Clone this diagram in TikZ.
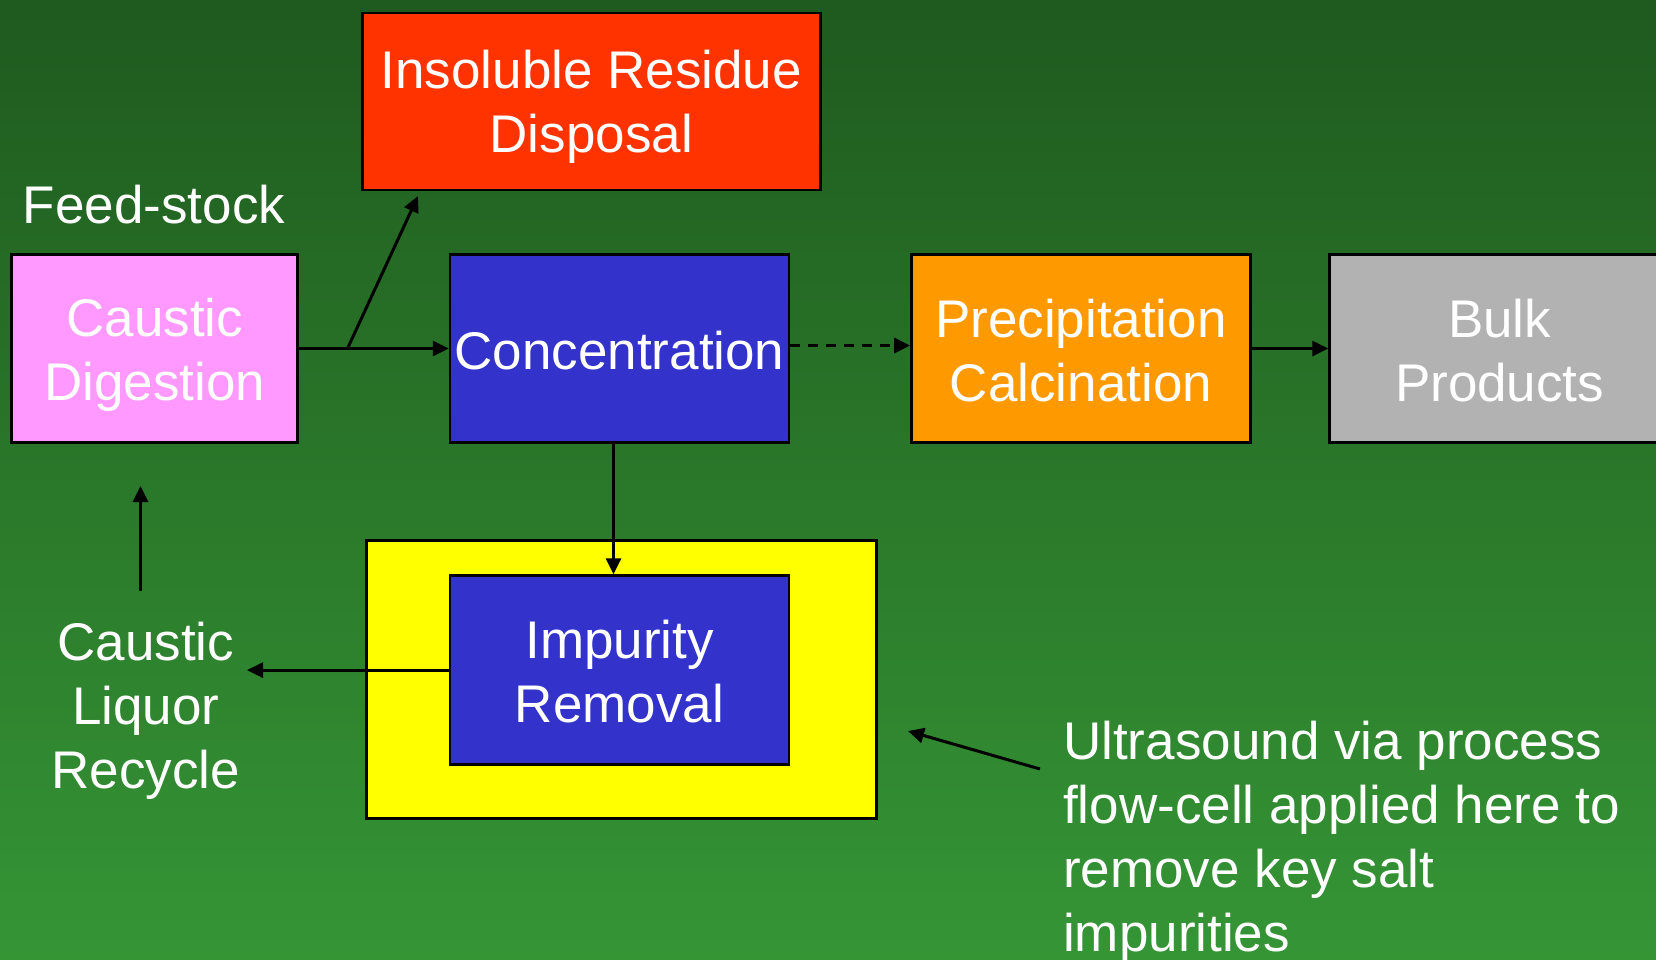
\documentclass[tikz,border=0pt]{standalone}
\usepackage{fontspec}
\setmainfont{Liberation Sans}
\usetikzlibrary{arrows.meta}
\definecolor{bgtop}{RGB}{31,90,31}
\definecolor{bgbot}{RGB}{53,149,53}
\definecolor{pinkbox}{RGB}{255,153,255}
\definecolor{bluebox}{RGB}{51,51,204}
\definecolor{redbox}{RGB}{255,51,0}
\definecolor{orangebox}{RGB}{255,153,0}
\definecolor{graybox}{RGB}{178,178,178}
\definecolor{cellyellow}{RGB}{255,255,0}
\newcommand{\lnstrut}{\rule[-9pt]{0pt}{59pt}}
\tikzset{
  bigtext/.style={text=white, font=\fontsize{53}{64}\selectfont, align=center},
  procbox/.style={bigtext, draw=black, line width=2.5pt, inner sep=0pt, minimum height=188pt},
  flow/.style={line width=3pt, -{Triangle[length=16pt,width=15pt]}}
}
\begin{document}
\begin{tikzpicture}[x=1pt, y=-1pt]
    \useasboundingbox (0,0) rectangle (1656,959);
    \fill[top color=bgtop, bottom color=bgbot] (0,0) rectangle (1656,959);
    % main row
    \node[procbox, fill=pinkbox, minimum width=286pt] (dig) at (154.7,348.5) {\lnstrut Caustic\\Digestion\lnstrut};
    \node[procbox, fill=bluebox, minimum width=339pt] (conc) at (619.5,348.5) {\lnstrut Concentration};
    \node[procbox, fill=orangebox, minimum width=339pt] (prec) at (1080.9,348.5) {\lnstrut Precipitation\\Calcination\lnstrut};
    \node[procbox, fill=graybox, minimum width=340pt] (bulk) at (1499.6,348.5) {\lnstrut Bulk\\Products\lnstrut};
    \node[procbox, fill=redbox, minimum width=458pt, minimum height=177pt] (res) at (591.3,101.4) {\lnstrut Insoluble Residue\\Disposal\lnstrut};
    % ultrasound cell
    \node[draw=black, line width=2.5pt, fill=cellyellow, minimum width=510pt, minimum height=278pt] (cell) at (621.5,679.6) {};
    \node[procbox, fill=bluebox, minimum width=339pt, minimum height=189pt] (imp) at (619.5,670.1) {\lnstrut Impurity\\Removal\lnstrut};
    % labels
    \node[bigtext] (feed) at (154,203) {\lnstrut Feed-stock};
    \node[bigtext] (liq) at (145.7,704.5) {\lnstrut Caustic\\Liquor\\Recycle\lnstrut};
    \node[bigtext, align=left, anchor=north west, inner sep=0pt] (ultra) at (1063,709) {\lnstrut Ultrasound via process\\flow-cell applied here to\\remove key salt\\impurities};
    \coordinate (split) at (347.5,348.5);
    \coordinate (resin) at (418,196);
    \coordinate (recyc) at (247,670.1);
    \coordinate (upfrom) at (140.5,591);
    \coordinate (upto) at (140.5,486);
    \coordinate (usfrom) at (1040,769);
    \coordinate (usto) at (908,731);
    % connectors
    \draw[flow] (dig.east) -- (conc.west);
    \draw[flow] (split) -- (resin);
    \draw[flow, dash pattern=on 10pt off 8pt] ([yshift=3pt]conc.east) -- ([yshift=3pt]prec.west);
    \draw[flow] (prec.east) -- (bulk.west);
    \draw[flow] ([xshift=-6pt]conc.south) -- ([xshift=-6pt]imp.north);
    \draw[flow] (imp.west) -- (recyc);
    \draw[flow] (upfrom) -- (upto);
    \draw[flow] (usfrom) -- (usto);
\end{tikzpicture}
\end{document}
